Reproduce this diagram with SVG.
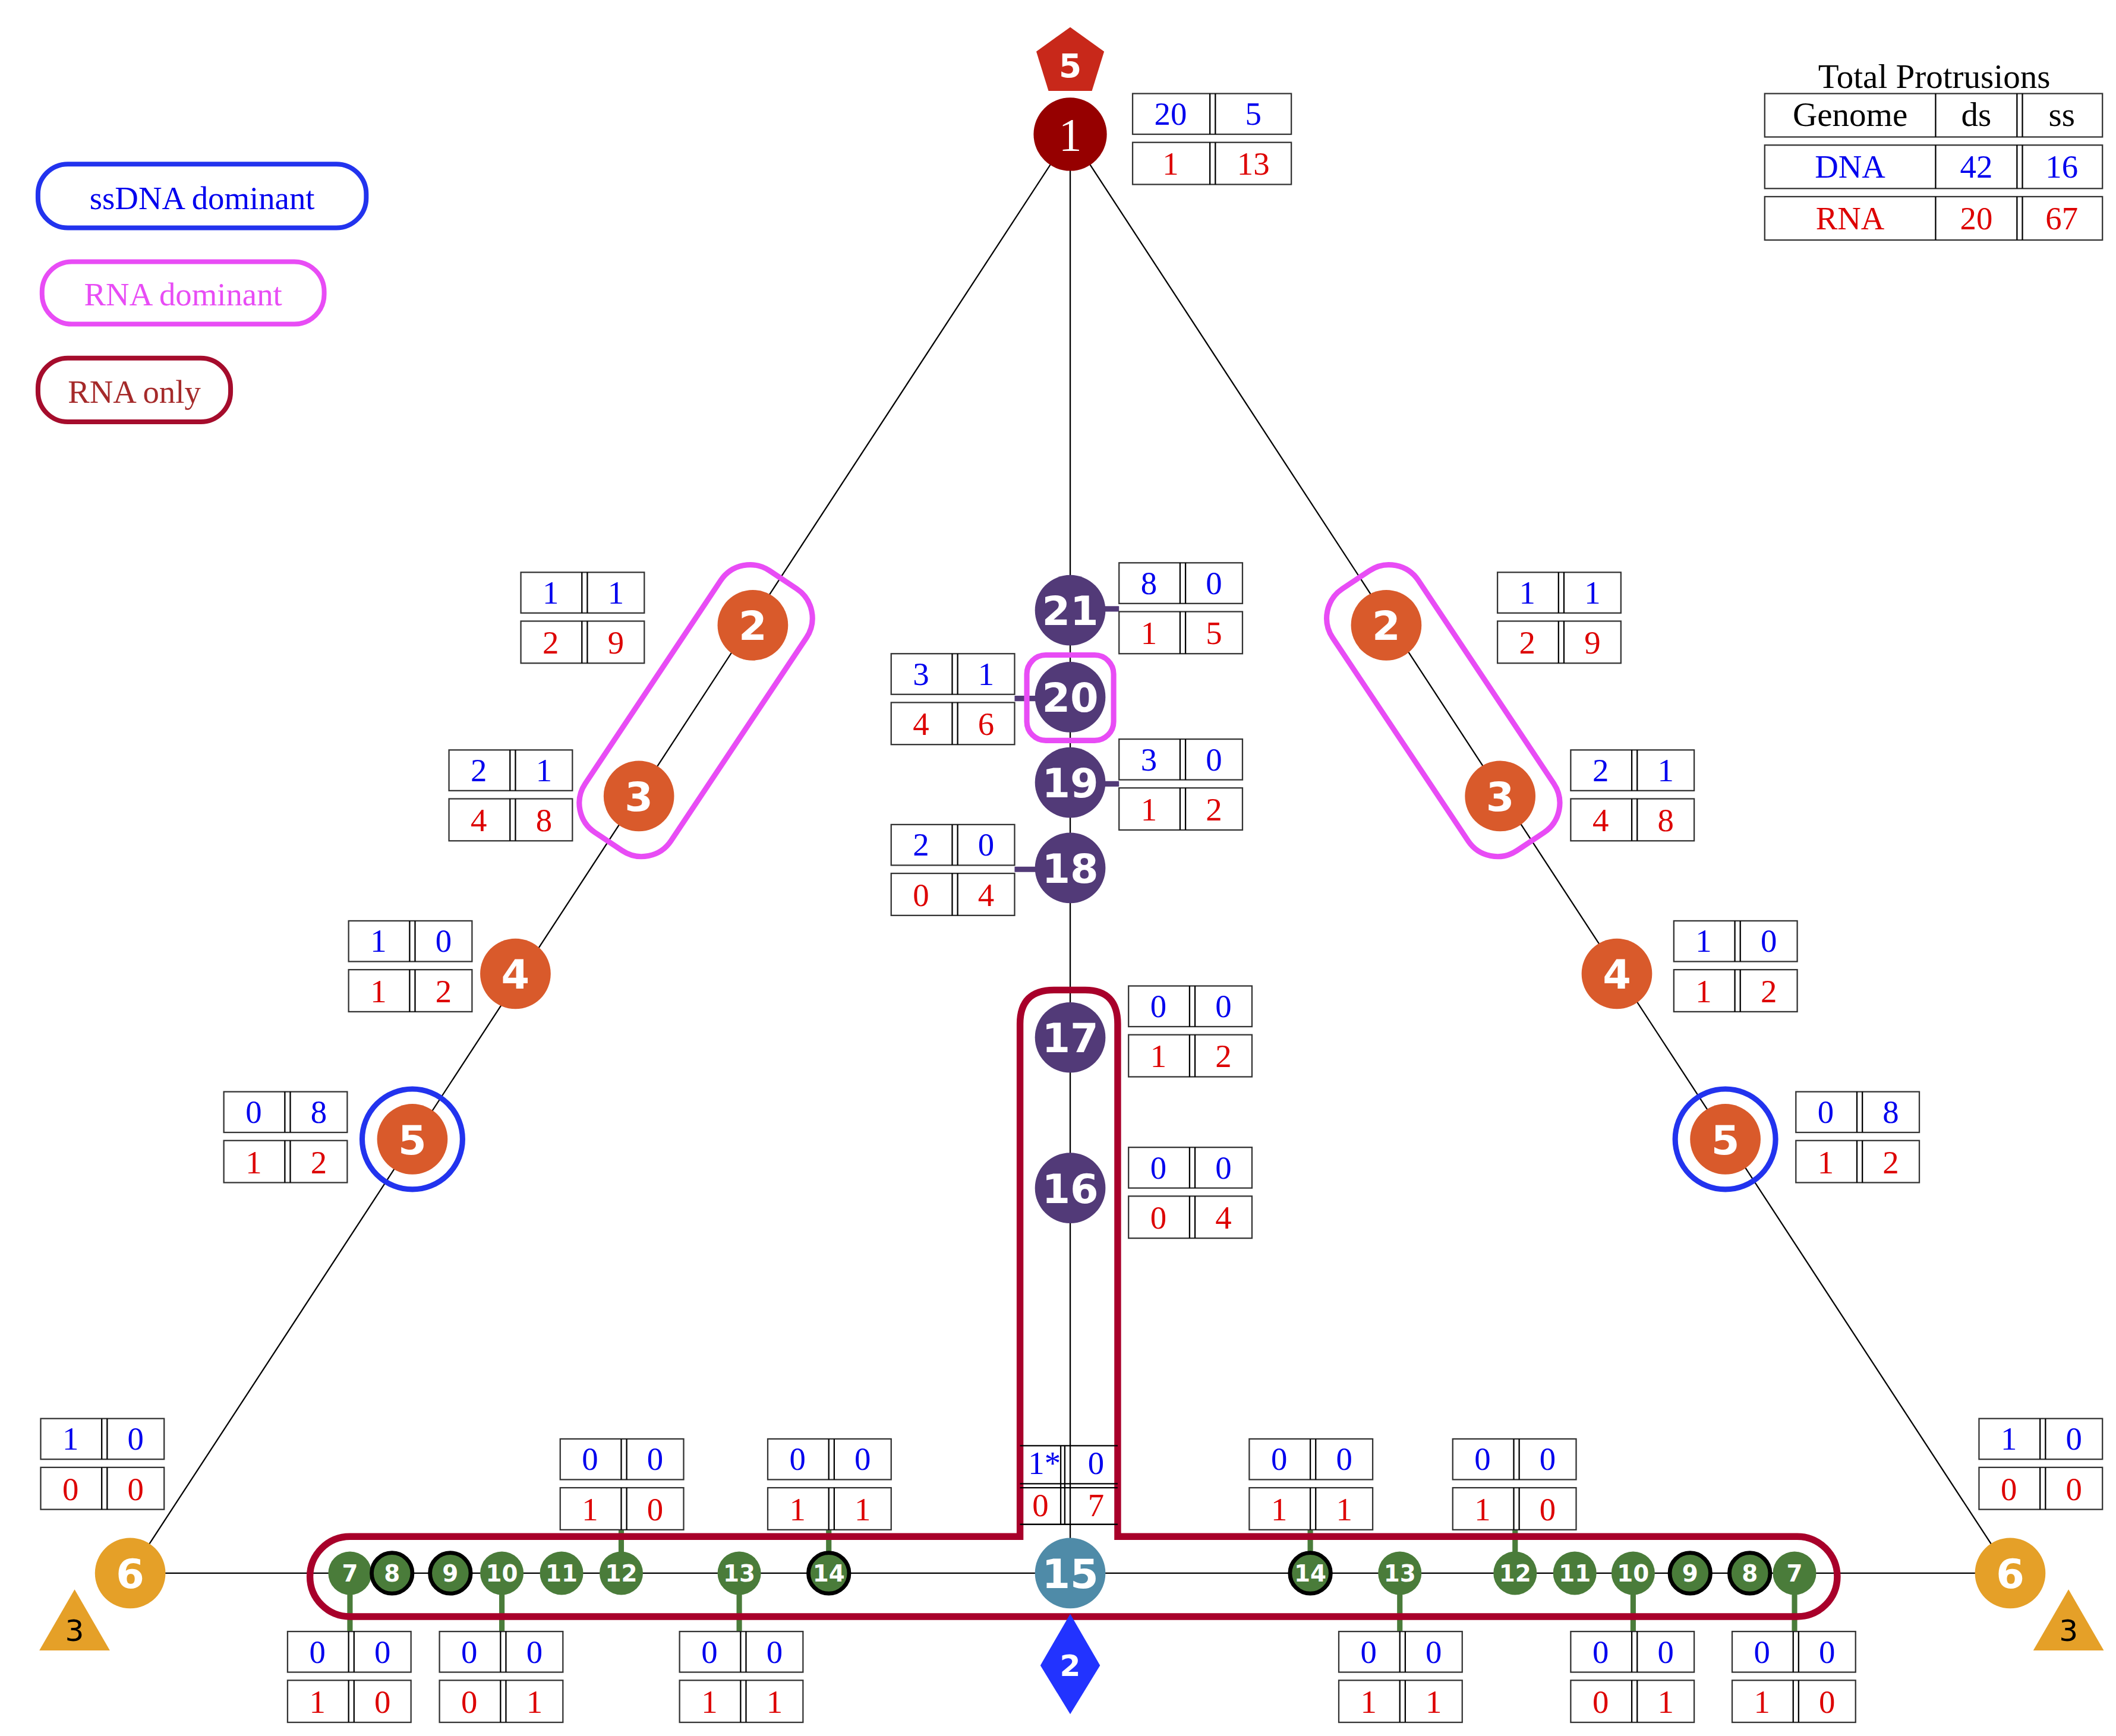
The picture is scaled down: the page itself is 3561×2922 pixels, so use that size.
<svg xmlns="http://www.w3.org/2000/svg" xmlns:xlink="http://www.w3.org/1999/xlink" width="3561" height="2922" viewBox="0 0 3561 2922">
<style>
.ln{stroke:#000;stroke-width:1;fill:none}
.fr{fill:#fff;stroke:#333;stroke-width:1}
.b{fill:#0000ee;font-family:"Liberation Serif",serif;font-size:24px;text-anchor:middle}
.r{fill:#dd0000;font-family:"Liberation Serif",serif;font-size:24px;text-anchor:middle}
.nt{fill:#fff;font-family:"DejaVu Sans",sans-serif;font-weight:bold;text-anchor:middle}
.or{fill:#d95a2b}
.pu{fill:#523a78}
.gr{fill:#4a7c3a}
.gk{fill:#4a7c3a;stroke:#000;stroke-width:3}
.gc{stroke:#4a7c3a;stroke-width:4}
.pc{stroke:#523a78;stroke-width:4}
.mag{fill:none;stroke:#e84cf5;stroke-width:4}
</style>
<defs>
<g id="frame">
<rect class="fr" x="0" y="0" width="91" height="30"/>
<rect class="fr" x="0" y="36" width="91" height="31"/>
<path class="ln" stroke="#333" d="M45 0V30M49 0V30M45 36V67M49 36V67"/>
</g>
</defs>
<rect width="3561" height="2922" fill="#fff"/>
<g transform="scale(2.2827)">
<g id="connectors">
<path class="ln" d="M789 99L96 1160M789 99L1482 1160M789 99V1160M96 1160H1482"/>
<path class="pc" d="M789 449H825M789 515H748M789 578H825M789 641H748"/>
<path class="gc" d="M458 1128V1160M611 1128V1160M966 1128V1160M1117 1128V1160M258 1160V1203M370 1160V1203M545 1160V1203M1032 1160V1203M1204 1160V1203M1323 1160V1203"/>
</g>
<g id="legend">
<rect x="28" y="121" width="242" height="47" rx="22" fill="none" stroke="#2233ee" stroke-width="3.5"/>
<text x="149" y="154" class="b" font-size="25">ssDNA dominant</text>
<rect x="31" y="193" width="208" height="46" rx="22" fill="none" stroke="#e84cf5" stroke-width="3.5"/>
<text x="135" y="225" class="r" style="fill:#e84cf5" font-size="25">RNA dominant</text>
<rect x="28" y="264" width="142" height="47" rx="22" fill="none" stroke="#a50c2c" stroke-width="3.5"/>
<text x="99" y="297" class="r" style="fill:#a52a2a" font-size="25">RNA only</text>
</g>
<g id="totals">
<text x="1426" y="65" font-family="Liberation Serif,serif" font-size="25" text-anchor="middle">Total Protrusions</text>
<rect class="fr" x="1301" y="69" width="249" height="32"/>
<rect class="fr" x="1301" y="107" width="249" height="32"/>
<rect class="fr" x="1301" y="145" width="249" height="32"/>
<path class="ln" stroke="#333" d="M1427 69V101M1487 69V101M1491 69V101M1427 107V139M1487 107V139M1491 107V139M1427 145V177M1487 145V177M1491 145V177"/>
<text x="1364" y="93" font-family="Liberation Serif,serif" font-size="25" text-anchor="middle">Genome</text>
<text x="1457" y="93" font-family="Liberation Serif,serif" font-size="25" text-anchor="middle">ds</text>
<text x="1520" y="93" font-family="Liberation Serif,serif" font-size="25" text-anchor="middle">ss</text>
<text x="1364" y="131" class="b" font-size="25">DNA</text><text x="1457" y="131" class="b" font-size="25">42</text><text x="1520" y="131" class="b" font-size="25">16</text>
<text x="1364" y="169" class="r" font-size="25">RNA</text><text x="1457" y="169" class="r" font-size="25">20</text><text x="1520" y="169" class="r" font-size="25">67</text>
</g>
<g id="rnaonly">
<path d="M258 1133H752V755Q752 730 777 730H800Q824 730 824 755V1133H1325A29.5 29.5 0 0 1 1325 1192H258A29.5 29.5 0 0 1 258 1133Z" fill="none" stroke="#a8002a" stroke-width="5"/>
</g>
<g id="n1">
<polygon points="789,20 814,38 805,67 773,67 764,38" fill="#c8281a"/>
<text x="789" y="57" class="nt" font-size="24" font-weight="normal">5</text>
<circle cx="789" cy="99" r="27" fill="#960000"/>
<text x="789" y="111" fill="#fff" font-family="Liberation Serif,serif" font-size="34" text-anchor="middle">1</text>
<rect class="fr" x="835" y="69" width="117" height="30"/>
<rect class="fr" x="835" y="105" width="117" height="31"/>
<path class="ln" stroke="#333" d="M892 69V99M896 69V99M892 105V136M896 105V136"/>
<text x="863" y="92" class="b">20</text><text x="924" y="92" class="b">5</text>
<text x="863" y="129" class="r">1</text><text x="924" y="129" class="r">13</text>
</g>
<g id="orange">
<rect x="397" y="486" width="232" height="76" rx="26" transform="rotate(-56.3 513 524)" class="mag"/>
<rect x="948" y="486" width="232" height="76" rx="26" transform="rotate(56.3 1064 524)" class="mag"/>
<circle cx="304" cy="840" r="37" fill="none" stroke="#2233ee" stroke-width="4"/>
<circle cx="1272" cy="840" r="37" fill="none" stroke="#2233ee" stroke-width="4"/>
<circle cx="555" cy="461" r="26" class="or"/><text x="555" y="472" class="nt" font-size="30">2</text>
<circle cx="471" cy="587" r="26" class="or"/><text x="471" y="598" class="nt" font-size="30">3</text>
<circle cx="380" cy="718" r="26" class="or"/><text x="380" y="729" class="nt" font-size="30">4</text>
<circle cx="304" cy="840" r="26" class="or"/><text x="304" y="851" class="nt" font-size="30">5</text>
<circle cx="1022" cy="461" r="26" class="or"/><text x="1022" y="472" class="nt" font-size="30">2</text>
<circle cx="1106" cy="587" r="26" class="or"/><text x="1106" y="598" class="nt" font-size="30">3</text>
<circle cx="1192" cy="718" r="26" class="or"/><text x="1192" y="729" class="nt" font-size="30">4</text>
<circle cx="1272" cy="840" r="26" class="or"/><text x="1272" y="851" class="nt" font-size="30">5</text>
<circle cx="96" cy="1160" r="26" fill="#e5a028"/><text x="96" y="1171" class="nt" font-size="30" font-weight="normal">6</text>
<circle cx="1482" cy="1160" r="26" fill="#e5a028"/><text x="1482" y="1171" class="nt" font-size="30" font-weight="normal">6</text>
<polygon points="55,1172 81,1217 29,1217" fill="#e5a028"/><text x="55" y="1210" font-family="DejaVu Sans,sans-serif" font-size="22" text-anchor="middle">3</text>
<polygon points="1525,1172 1551,1217 1499,1217" fill="#e5a028"/><text x="1525" y="1210" font-family="DejaVu Sans,sans-serif" font-size="22" text-anchor="middle">3</text>
<polygon points="789,1190 811,1228 789,1264 767,1228" fill="#2233ff"/><text x="789" y="1236" class="nt" font-size="22" font-weight="normal">2</text>
</g>
<g id="tables">
<g transform="translate(384,422)"><use xlink:href="#frame"/><text x="22" y="23" class="b">1</text><text x="70" y="23" class="b">1</text><text x="22" y="60" class="r">2</text><text x="70" y="60" class="r">9</text></g>
<g transform="translate(331,553)"><use xlink:href="#frame"/><text x="22" y="23" class="b">2</text><text x="70" y="23" class="b">1</text><text x="22" y="60" class="r">4</text><text x="70" y="60" class="r">8</text></g>
<g transform="translate(257,679)"><use xlink:href="#frame"/><text x="22" y="23" class="b">1</text><text x="70" y="23" class="b">0</text><text x="22" y="60" class="r">1</text><text x="70" y="60" class="r">2</text></g>
<g transform="translate(165,805)"><use xlink:href="#frame"/><text x="22" y="23" class="b">0</text><text x="70" y="23" class="b">8</text><text x="22" y="60" class="r">1</text><text x="70" y="60" class="r">2</text></g>
<g transform="translate(30,1046)"><use xlink:href="#frame"/><text x="22" y="23" class="b">1</text><text x="70" y="23" class="b">0</text><text x="22" y="60" class="r">0</text><text x="70" y="60" class="r">0</text></g>
<g transform="translate(1104,422)"><use xlink:href="#frame"/><text x="22" y="23" class="b">1</text><text x="70" y="23" class="b">1</text><text x="22" y="60" class="r">2</text><text x="70" y="60" class="r">9</text></g>
<g transform="translate(1158,553)"><use xlink:href="#frame"/><text x="22" y="23" class="b">2</text><text x="70" y="23" class="b">1</text><text x="22" y="60" class="r">4</text><text x="70" y="60" class="r">8</text></g>
<g transform="translate(1234,679)"><use xlink:href="#frame"/><text x="22" y="23" class="b">1</text><text x="70" y="23" class="b">0</text><text x="22" y="60" class="r">1</text><text x="70" y="60" class="r">2</text></g>
<g transform="translate(1324,805)"><use xlink:href="#frame"/><text x="22" y="23" class="b">0</text><text x="70" y="23" class="b">8</text><text x="22" y="60" class="r">1</text><text x="70" y="60" class="r">2</text></g>
<g transform="translate(1459,1046)"><use xlink:href="#frame"/><text x="22" y="23" class="b">1</text><text x="70" y="23" class="b">0</text><text x="22" y="60" class="r">0</text><text x="70" y="60" class="r">0</text></g>
<g transform="translate(825,415)"><use xlink:href="#frame"/><text x="22" y="23" class="b">8</text><text x="70" y="23" class="b">0</text><text x="22" y="60" class="r">1</text><text x="70" y="60" class="r">5</text></g>
<g transform="translate(657,482)"><use xlink:href="#frame"/><text x="22" y="23" class="b">3</text><text x="70" y="23" class="b">1</text><text x="22" y="60" class="r">4</text><text x="70" y="60" class="r">6</text></g>
<g transform="translate(825,545)"><use xlink:href="#frame"/><text x="22" y="23" class="b">3</text><text x="70" y="23" class="b">0</text><text x="22" y="60" class="r">1</text><text x="70" y="60" class="r">2</text></g>
<g transform="translate(657,608)"><use xlink:href="#frame"/><text x="22" y="23" class="b">2</text><text x="70" y="23" class="b">0</text><text x="22" y="60" class="r">0</text><text x="70" y="60" class="r">4</text></g>
<g transform="translate(832,727)"><use xlink:href="#frame"/><text x="22" y="23" class="b">0</text><text x="70" y="23" class="b">0</text><text x="22" y="60" class="r">1</text><text x="70" y="60" class="r">2</text></g>
<g transform="translate(832,846)"><use xlink:href="#frame"/><text x="22" y="23" class="b">0</text><text x="70" y="23" class="b">0</text><text x="22" y="60" class="r">0</text><text x="70" y="60" class="r">4</text></g>
<g transform="translate(413,1061)"><use xlink:href="#frame"/><text x="22" y="23" class="b">0</text><text x="70" y="23" class="b">0</text><text x="22" y="60" class="r">1</text><text x="70" y="60" class="r">0</text></g>
<g transform="translate(566,1061)"><use xlink:href="#frame"/><text x="22" y="23" class="b">0</text><text x="70" y="23" class="b">0</text><text x="22" y="60" class="r">1</text><text x="70" y="60" class="r">1</text></g>
<g transform="translate(921,1061)"><use xlink:href="#frame"/><text x="22" y="23" class="b">0</text><text x="70" y="23" class="b">0</text><text x="22" y="60" class="r">1</text><text x="70" y="60" class="r">1</text></g>
<g transform="translate(1071,1061)"><use xlink:href="#frame"/><text x="22" y="23" class="b">0</text><text x="70" y="23" class="b">0</text><text x="22" y="60" class="r">1</text><text x="70" y="60" class="r">0</text></g>
<g transform="translate(212,1203)"><use xlink:href="#frame"/><text x="22" y="23" class="b">0</text><text x="70" y="23" class="b">0</text><text x="22" y="60" class="r">1</text><text x="70" y="60" class="r">0</text></g>
<g transform="translate(324,1203)"><use xlink:href="#frame"/><text x="22" y="23" class="b">0</text><text x="70" y="23" class="b">0</text><text x="22" y="60" class="r">0</text><text x="70" y="60" class="r">1</text></g>
<g transform="translate(501,1203)"><use xlink:href="#frame"/><text x="22" y="23" class="b">0</text><text x="70" y="23" class="b">0</text><text x="22" y="60" class="r">1</text><text x="70" y="60" class="r">1</text></g>
<g transform="translate(987,1203)"><use xlink:href="#frame"/><text x="22" y="23" class="b">0</text><text x="70" y="23" class="b">0</text><text x="22" y="60" class="r">1</text><text x="70" y="60" class="r">1</text></g>
<g transform="translate(1158,1203)"><use xlink:href="#frame"/><text x="22" y="23" class="b">0</text><text x="70" y="23" class="b">0</text><text x="22" y="60" class="r">0</text><text x="70" y="60" class="r">1</text></g>
<g transform="translate(1277,1203)"><use xlink:href="#frame"/><text x="22" y="23" class="b">0</text><text x="70" y="23" class="b">0</text><text x="22" y="60" class="r">1</text><text x="70" y="60" class="r">0</text></g>
<g id="t15">
<path class="ln" d="M752 1066H824M752 1094H824M752 1097H824M752 1124H824M782 1066V1124M785 1066V1124"/>
<text x="770" y="1087" class="b" font-size="20">1*</text><text x="808" y="1087" class="b" font-size="20">0</text>
<text x="767" y="1118" class="r" font-size="20">0</text><text x="808" y="1118" class="r" font-size="20">7</text>
</g>
</g>
<g id="purple">
<rect x="757" y="483" width="64" height="63" rx="14" class="mag"/>
<circle cx="789" cy="450" r="26" class="pu"/><text x="789" y="461" class="nt" font-size="30">21</text>
<circle cx="789" cy="514" r="26" class="pu"/><text x="789" y="525" class="nt" font-size="30">20</text>
<circle cx="789" cy="577" r="26" class="pu"/><text x="789" y="588" class="nt" font-size="30">19</text>
<circle cx="789" cy="640" r="26" class="pu"/><text x="789" y="651" class="nt" font-size="30">18</text>
<circle cx="789" cy="765" r="26" class="pu"/><text x="789" y="776" class="nt" font-size="30">17</text>
<circle cx="789" cy="876" r="26" class="pu"/><text x="789" y="887" class="nt" font-size="30">16</text>
<circle cx="789" cy="1160" r="26" fill="#4f8ba8"/><text x="789" y="1171" class="nt" font-size="30" font-weight="normal">15</text>
</g>
<g id="green" font-size="17">
<circle cx="258" cy="1160" r="16" class="gr"/><text x="258" y="1166" class="nt">7</text>
<circle cx="289" cy="1160" r="15" class="gk"/><text x="289" y="1166" class="nt">8</text>
<circle cx="332" cy="1160" r="15" class="gk"/><text x="332" y="1166" class="nt">9</text>
<circle cx="370" cy="1160" r="16" class="gr"/><text x="370" y="1166" class="nt">10</text>
<circle cx="414" cy="1160" r="16" class="gr"/><text x="414" y="1166" class="nt">11</text>
<circle cx="458" cy="1160" r="16" class="gr"/><text x="458" y="1166" class="nt">12</text>
<circle cx="545" cy="1160" r="16" class="gr"/><text x="545" y="1166" class="nt">13</text>
<circle cx="611" cy="1160" r="15" class="gk"/><text x="611" y="1166" class="nt">14</text>
<circle cx="966" cy="1160" r="15" class="gk"/><text x="966" y="1166" class="nt">14</text>
<circle cx="1032" cy="1160" r="16" class="gr"/><text x="1032" y="1166" class="nt">13</text>
<circle cx="1117" cy="1160" r="16" class="gr"/><text x="1117" y="1166" class="nt">12</text>
<circle cx="1161" cy="1160" r="16" class="gr"/><text x="1161" y="1166" class="nt">11</text>
<circle cx="1204" cy="1160" r="16" class="gr"/><text x="1204" y="1166" class="nt">10</text>
<circle cx="1246" cy="1160" r="15" class="gk"/><text x="1246" y="1166" class="nt">9</text>
<circle cx="1290" cy="1160" r="15" class="gk"/><text x="1290" y="1166" class="nt">8</text>
<circle cx="1323" cy="1160" r="16" class="gr"/><text x="1323" y="1166" class="nt">7</text>
</g>
</g>
</svg>
